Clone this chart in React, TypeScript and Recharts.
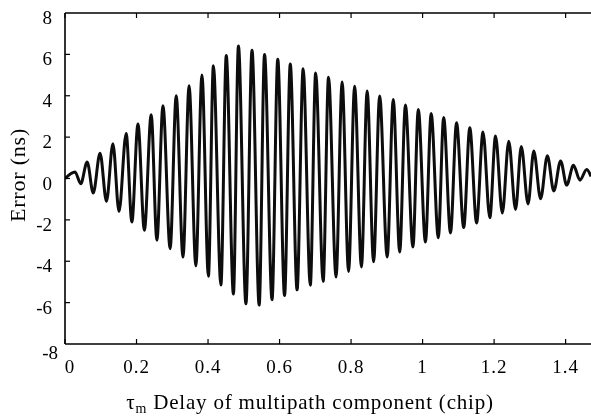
import React from "react";
import { LineChart, Line, XAxis, YAxis } from "recharts";

// delay of multipath component (chip) at each extremum of the error curve
const delay = [
  0, 0.028, 0.044, 0.062, 0.079, 0.098, 0.116, 0.134, 0.151, 0.171, 0.187,
  0.204, 0.222, 0.241, 0.257, 0.274, 0.294, 0.311, 0.33, 0.347, 0.366, 0.383,
  0.401, 0.415, 0.436, 0.451, 0.471, 0.485, 0.506, 0.523, 0.543, 0.558, 0.579,
  0.595, 0.614, 0.63, 0.649, 0.666, 0.686, 0.701, 0.722, 0.737, 0.758, 0.775,
  0.793, 0.81, 0.829, 0.845, 0.863, 0.88, 0.901, 0.918, 0.936, 0.952, 0.973,
  0.988, 1.008, 1.024, 1.044, 1.059, 1.078, 1.095, 1.115, 1.132, 1.151, 1.169,
  1.188, 1.204, 1.223, 1.241, 1.26, 1.276, 1.295, 1.311, 1.33, 1.349, 1.367,
  1.386, 1.403, 1.422, 1.44, 1.459, 1.471,
];

// error (ns)
const error = [
  0, 0.32, -0.25, 0.8, -0.7, 1.22, -1.1, 1.68, -1.6, 2.18, -2.1, 2.63, -2.5,
  3.08, -2.98, 3.52, -3.39, 4.0, -3.8, 4.48, -4.23, 5.0, -4.72, 5.45, -5.15,
  5.94, -5.58, 6.4, -6.05, 6.2, -6.12, 6.0, -5.86, 5.77, -5.66, 5.53, -5.38,
  5.3, -5.16, 5.1, -4.97, 4.9, -4.76, 4.66, -4.49, 4.46, -4.28, 4.23, -4.03,
  3.99, -3.79, 3.82, -3.55, 3.55, -3.31, 3.34, -3.07, 3.14, -2.86, 2.95, -2.63,
  2.69, -2.37, 2.45, -2.15, 2.25, -1.9, 2.05, -1.67, 1.8, -1.5, 1.55, -1.23,
  1.33, -0.98, 1.1, -0.6, 0.85, -0.32, 0.64, -0.08, 0.44, 0.1,
];

const xTicks = [0, 0.2, 0.4, 0.6, 0.8, 1, 1.2, 1.4];
const yTicks = [-8, -6, -4, -2, 0, 2, 4, 6, 8];

const data = delay.map((d, i) => ({ delay: d, error: error[i] }));

const FONT = "'Liberation Serif', 'Times New Roman', serif";

const BottomTick = (props: any) => {
  const { x, y, payload } = props;
  const shift = payload.value === 0 ? 5 : 0;
  return (
    <g>
      <line x1={x} y1={y} x2={x} y2={y - 5} stroke="#000" strokeWidth={1.2} />
      <text
        x={x + shift}
        y={y + 29}
        textAnchor="middle"
        fontFamily={FONT}
        fontSize={19}
        letterSpacing={1}
        fill="#000"
      >
        {String(payload.value)}
      </text>
    </g>
  );
};

const TopTick = (props: any) => {
  const { x, y } = props;
  return <line x1={x} y1={y} x2={x} y2={y + 5} stroke="#000" strokeWidth={1.2} />;
};

const LeftTick = (props: any) => {
  const { x, y, payload } = props;
  const v = payload.value;
  const low = v === -8;
  return (
    <g>
      {v > -8 && v < 8 && (
        <line x1={x} y1={y} x2={x + 5} y2={y} stroke="#000" strokeWidth={1.2} />
      )}
      <text
        x={x - 13 + (low ? 6 : 0)}
        y={y + 11 + (low ? 4 : 0)}
        textAnchor="end"
        fontFamily={FONT}
        fontSize={19}
        fill="#000"
      >
        {String(v)}
      </text>
    </g>
  );
};

const XTitle = () => (
  <text
    x={310}
    y={409}
    textAnchor="middle"
    fontFamily={FONT}
    fontSize={21}
    letterSpacing={0.8}
    fill="#000"
  >
    τ
    <tspan fontSize={14} dy={4}>m</tspan>
    <tspan dy={-4}> Delay of multipath component (chip)</tspan>
  </text>
);

const YTitle = () => (
  <text
    x={25}
    y={175}
    transform="rotate(-90 25 175)"
    textAnchor="middle"
    fontFamily={FONT}
    fontSize={22}
    letterSpacing={0.8}
    fill="#000"
  >
    Error (ns)
  </text>
);

export default function App() {
  return (
    <div style={{ position: "fixed", left: 0, top: 0, width: 591, height: 416 }}>
      <LineChart
        width={591}
        height={416}
        data={data}
        margin={{ top: 12, right: 0, bottom: 0, left: 8 }}
      >
        <XAxis
          dataKey="delay"
          type="number"
          domain={[0, 1.471]}
          allowDataOverflow
          ticks={xTicks}
          height={72}
          tickSize={0}
          tickMargin={0}
          tickLine={false}
          axisLine={{ stroke: "#000", strokeWidth: 1.6 }}
          tick={<BottomTick />}
          interval={0}
          label={<XTitle />}
        />
        <XAxis
          xAxisId="top"
          orientation="top"
          dataKey="delay"
          type="number"
          domain={[0, 1.471]}
          allowDataOverflow
          ticks={xTicks}
          height={1}
          tickSize={0}
          tickMargin={0}
          tickLine={false}
          axisLine={{ stroke: "#000", strokeWidth: 1.6 }}
          tick={<TopTick />}
          interval={0}
        />
        <YAxis
          type="number"
          domain={[-8, 8]}
          ticks={yTicks}
          width={57}
          tickSize={0}
          tickMargin={0}
          tickLine={false}
          axisLine={{ stroke: "#000", strokeWidth: 1.6 }}
          tick={<LeftTick />}
          interval={0}
          label={<YTitle />}
        />
        <Line
          type="monotone"
          dataKey="error"
          stroke="#0d0d0d"
          strokeWidth={3}
          dot={false}
          isAnimationActive={false}
        />
      </LineChart>
    </div>
  );
}
